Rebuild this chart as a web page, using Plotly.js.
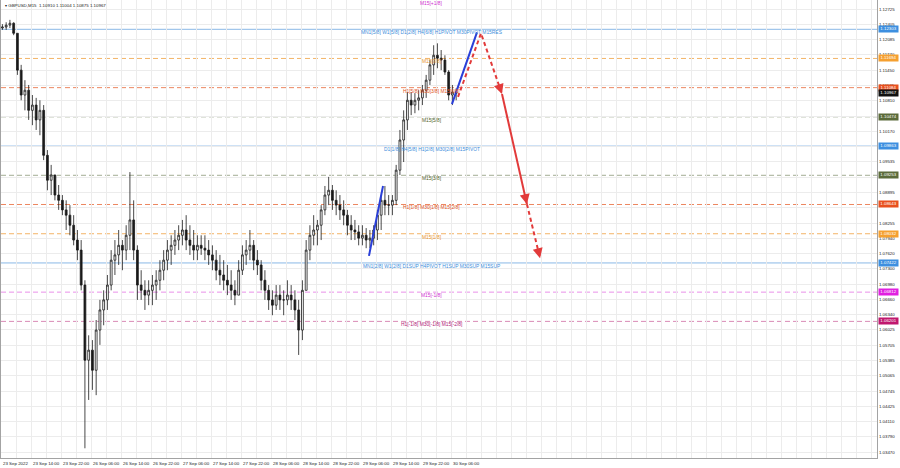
<!DOCTYPE html>
<html><head><meta charset="utf-8">
<script src="https://cdn.plot.ly/plotly-3.0.1.min.js"></script>
<style>html,body{margin:0;padding:0;background:#fff}#chart{width:900px;height:468px}</style>
</head><body><div id="chart"></div>
<script>
// ---- data ----
const symbolTitle = "GBPUSD,M15  1.10910 1.11004 1.10875 1.10967";
const timeLabels = ["23 Sep 2022","23 Sep 14:00","23 Sep 22:00","26 Sep 06:00","26 Sep 14:00","26 Sep 22:00","27 Sep 06:00","27 Sep 14:00","27 Sep 22:00","28 Sep 06:00","28 Sep 14:00","28 Sep 22:00","29 Sep 06:00","29 Sep 14:00","29 Sep 22:00","30 Sep 06:00"];
const priceTicks = [1.12725,1.12405,1.12085,1.11770,1.11450,1.11125,1.10810,1.10490,1.10170,1.09855,1.09535,1.09215,1.08895,1.08575,1.08255,1.07940,1.07620,1.07300,1.06980,1.06660,1.06340,1.06025,1.05705,1.05385,1.05065,1.04745,1.04425,1.04110,1.03790,1.03470];

// hourly candles (each = 4 M15 bars) from 23 Sep 06:00
const hourOpen = [1.1233,1.1235,1.1239,1.1243,1.1222,1.1145,1.1093,1.1103,1.1061,1.1072,1.1041,1.1061,1.0967,1.0915,1.0926,1.0884,1.0873,1.0853,1.0842,1.0821,1.0790,1.0769,1.0696,1.0539,1.0560,1.0518,1.0602,1.0644,1.0665,1.0696,1.0748,1.0759,1.0779,1.0769,1.0800,1.0832,1.0769,1.0696,1.0685,1.0675,1.0685,1.0696,1.0706,1.0727,1.0748,1.0769,1.0779,1.0790,1.0800,1.0811,1.0790,1.0779,1.0769,1.0779,1.0773,1.0769,1.0759,1.0748,1.0727,1.0717,1.0706,1.0696,1.0685,1.0675,1.0727,1.0759,1.0769,1.0779,1.0748,1.0738,1.0706,1.0685,1.0665,1.0654,1.0675,1.0665,1.0665,1.0675,1.0665,1.0644,1.0602,1.0685,1.0769,1.0800,1.0811,1.0821,1.0853,1.0884,1.0894,1.0873,1.0863,1.0853,1.0842,1.0821,1.0811,1.0807,1.0794,1.0800,1.0790,1.0794,1.0811,1.0842,1.0873,1.0863,1.0863,1.0873,1.0936,1.0999,1.1041,1.1082,1.1072,1.1082,1.1087,1.1103,1.1124,1.1156,1.1176,1.1170,1.1166,1.1141,1.1093,1.1099];
const hourHigh = [1.1241,1.1245,1.1250,1.1245,1.1222,1.1156,1.1124,1.1114,1.1093,1.1087,1.1082,1.1072,1.0978,1.0947,1.0926,1.0905,1.0884,1.0873,1.0863,1.0842,1.0811,1.0790,1.0706,1.0591,1.0581,1.0623,1.0665,1.0685,1.0717,1.0769,1.0790,1.0811,1.0790,1.0821,1.0932,1.0873,1.0779,1.0727,1.0706,1.0706,1.0717,1.0727,1.0748,1.0769,1.0790,1.0800,1.0811,1.0821,1.0832,1.0842,1.0821,1.0811,1.0800,1.0800,1.0800,1.0790,1.0779,1.0769,1.0759,1.0748,1.0738,1.0727,1.0706,1.0748,1.0779,1.0790,1.0811,1.0790,1.0769,1.0748,1.0727,1.0696,1.0685,1.0696,1.0696,1.0685,1.0706,1.0696,1.0685,1.0665,1.0706,1.0790,1.0821,1.0842,1.0832,1.0863,1.0903,1.0922,1.0905,1.0894,1.0884,1.0873,1.0853,1.0842,1.0832,1.0821,1.0821,1.0815,1.0811,1.0821,1.0853,1.0884,1.0903,1.0884,1.0884,1.0947,1.1020,1.1061,1.1099,1.1099,1.1097,1.1103,1.1114,1.1135,1.1166,1.1197,1.1201,1.1187,1.1176,1.1145,1.1114,1.1107];
const hourLow = [1.1229,1.1229,1.1233,1.1218,1.1135,1.1082,1.1061,1.1041,1.1030,1.1020,1.1009,1.0957,1.0894,1.0884,1.0873,1.0853,1.0842,1.0811,1.0800,1.0779,1.0748,1.0685,1.0355,1.0456,1.0477,1.0466,1.0571,1.0612,1.0644,1.0685,1.0717,1.0738,1.0727,1.0748,1.0769,1.0748,1.0665,1.0665,1.0644,1.0654,1.0654,1.0665,1.0685,1.0706,1.0727,1.0738,1.0759,1.0769,1.0779,1.0769,1.0759,1.0748,1.0748,1.0759,1.0748,1.0738,1.0727,1.0706,1.0696,1.0685,1.0675,1.0665,1.0654,1.0675,1.0717,1.0738,1.0748,1.0727,1.0717,1.0685,1.0665,1.0644,1.0633,1.0644,1.0644,1.0633,1.0654,1.0644,1.0623,1.0550,1.0581,1.0685,1.0748,1.0779,1.0779,1.0790,1.0842,1.0863,1.0853,1.0842,1.0832,1.0821,1.0800,1.0790,1.0790,1.0779,1.0779,1.0773,1.0773,1.0779,1.0790,1.0811,1.0842,1.0842,1.0842,1.0863,1.0926,1.0953,1.1020,1.1051,1.1055,1.1061,1.1072,1.1087,1.1114,1.1135,1.1149,1.1145,1.1135,1.1082,1.1072,1.1082];
const hourClose = [1.1235,1.1239,1.1243,1.1222,1.1145,1.1093,1.1103,1.1061,1.1072,1.1041,1.1061,1.0967,1.0915,1.0926,1.0884,1.0873,1.0853,1.0842,1.0821,1.0790,1.0769,1.0696,1.0539,1.0560,1.0518,1.0602,1.0644,1.0665,1.0696,1.0748,1.0759,1.0779,1.0769,1.0800,1.0832,1.0769,1.0696,1.0685,1.0675,1.0685,1.0696,1.0706,1.0727,1.0748,1.0769,1.0779,1.0790,1.0800,1.0811,1.0790,1.0779,1.0769,1.0779,1.0773,1.0769,1.0759,1.0748,1.0727,1.0717,1.0706,1.0696,1.0685,1.0675,1.0727,1.0759,1.0769,1.0779,1.0748,1.0738,1.0706,1.0685,1.0665,1.0654,1.0675,1.0665,1.0665,1.0675,1.0665,1.0644,1.0602,1.0685,1.0769,1.0800,1.0811,1.0821,1.0853,1.0884,1.0894,1.0873,1.0863,1.0853,1.0842,1.0821,1.0811,1.0807,1.0794,1.0800,1.0790,1.0794,1.0811,1.0842,1.0873,1.0863,1.0863,1.0873,1.0936,1.0999,1.1041,1.1082,1.1072,1.1082,1.1087,1.1103,1.1124,1.1156,1.1176,1.1170,1.1166,1.1141,1.1093,1.1099,1.10967];

// horizontal Murrey-type levels
const levelPrices = [1.12913,1.12303,1.11694,1.11084,1.10474,1.09863,1.09253,1.08643,1.08032,1.07422,1.06812,1.06201];
const levelTexts = ["M15[+1/8]","MN1[5/8] W1[5/8] D1[2/8] H4[6/8] H1PIVOT M30PIVOT M15RES","M15[7/8]","H1[5/8] M30[3/8] M15[6/8]","M15[5/8]","D1[1/8] H4[5/8] H1[2/8] M30[2/8] M15PIVOT","M15[3/8]","H1[1/8] M30[1/8] M15[2/8]","M15[1/8]","MN1[2/8] W1[2/8] D1SUP H4PIVOT H1SUP M30SUP M15SUP","M15[-1/8]","H1[-1/8] M30[-1/8] M15[-2/8]"];
const levelKinds = ["magenta","blue","orange","red","olive","blue","olive","red","orange","blue","magenta","crimson"];
const currentPrice = 1.10967;

// hand-drawn forecast objects (M15 bar index from 23 Sep 06:00, price)
const blueLineA_bars = [392.5, 407.5], blueLineA_prices = [1.0757, 1.0903];
const blueLineB_bars = [481, 507.7],   blueLineB_prices = [1.1074, 1.1224];
const forecastBars   = [487.5, 512, 534.4, 561, 575];
const forecastPrices = [1.1089, 1.1222, 1.1095, 1.0865, 1.0752];

// ---- styles ----
const kindStyle = {
  blue:    {line:'#8ab8e6', dash:'solid',   text:'#3b8ddb', box:'#3d8fe0'},
  orange:  {line:'#f3b466', dash:'5px,3px', text:'#e8942a', box:'#f5a030'},
  red:     {line:'#ec8660', dash:'5px,3px', text:'#e0501a', box:'#e8501e'},
  olive:   {line:'#a3ad93', dash:'5px,3px', text:'#4f6228', box:'#5b6b3a'},
  magenta: {line:'#e990e9', dash:'5px,3px', text:'#d030d0', box:'#e020e0'},
  crimson: {line:'#d98ab6', dash:'5px,3px', text:'#b01878', box:'#c0186e'}
};
const FONT = 'Liberation Sans, Arial, sans-serif';
const yTop = 1.12915, yBot = 1.03347, xMax = 934.4;
const coveredTicks = [1.10490, 1.09855, 1.09215, 1.08575]; // hidden under price boxes in the reference

const candleX = hourClose.map((_, k) => 4 * k + 1.5);

const traces = [
  {type:'candlestick', x:candleX, open:hourOpen, high:hourHigh, low:hourLow, close:hourClose,
   increasing:{line:{color:'#1a1a1a', width:0.8}, fillcolor:'#ffffff'},
   decreasing:{line:{color:'#1a1a1a', width:0.8}, fillcolor:'#1a1a1a'},
   whiskerwidth:0, hoverinfo:'skip', showlegend:false},
  {type:'scatter', mode:'lines', x:blueLineA_bars, y:blueLineA_prices, line:{color:'#2a3fd8', width:2}, hoverinfo:'skip', showlegend:false},
  {type:'scatter', mode:'lines', x:blueLineB_bars, y:blueLineB_prices, line:{color:'#2a3fd8', width:2}, hoverinfo:'skip', showlegend:false},
  {type:'scatter', mode:'lines', x:forecastBars.slice(0,3), y:forecastPrices.slice(0,3), line:{color:'#e23a3a', width:2, dash:'4px,3px'}, hoverinfo:'skip', showlegend:false},
  {type:'scatter', mode:'lines', x:forecastBars.slice(2,4), y:forecastPrices.slice(2,4), line:{color:'#e23a3a', width:2}, hoverinfo:'skip', showlegend:false},
  {type:'scatter', mode:'lines', x:forecastBars.slice(3,5), y:forecastPrices.slice(3,5), line:{color:'#e23a3a', width:2, dash:'4px,3px'}, hoverinfo:'skip', showlegend:false}
];

const visible = p => p < yTop - 0.0002;
const shapes = levelPrices.filter(visible).map(p => {
  const i = levelPrices.indexOf(p);
  return {type:'line', xref:'paper', x0:0, x1:1, yref:'y', y0:p, y1:p, layer:'below',
    line:{color:kindStyle[levelKinds[i]].line, width:1, dash:kindStyle[levelKinds[i]].dash}};
});

const annotations = [];
annotations.push({xref:'paper', yref:'paper', x:0.002, y:1, xanchor:'left', yanchor:'top', yshift:-1,
  text:'\u25BE ' + symbolTitle, showarrow:false, font:{family:FONT, size:4.4, color:'#222'}});
timeLabels.forEach((t, k) => annotations.push({xref:'x', yref:'paper', x:32 * k, y:0, xanchor:'left', yanchor:'top', yshift:-1,
  text:t, showarrow:false, font:{family:FONT, size:4.4, color:'#222'}}));
levelPrices.forEach((p, i) => annotations.push({xref:'paper', yref:'y', x:0.492, y:Math.min(p, yTop), xanchor:'center', yanchor:'top', yshift:0,
  borderpad:0, text:levelTexts[i], showarrow:false, font:{family:FONT, size:4.9, color:kindStyle[levelKinds[i]].text}}));
levelPrices.forEach((p, i) => { if (visible(p)) annotations.push({xref:'paper', yref:'y', x:1, y:p, xanchor:'left', yanchor:'middle', xshift:1,
  width:19, height:5.5, borderpad:0, bgcolor:kindStyle[levelKinds[i]].box, text:p.toFixed(5), showarrow:false,
  font:{family:FONT, size:4.4, color:'#ffffff'}}); });
annotations.push({xref:'paper', yref:'y', x:1, y:currentPrice, xanchor:'left', yanchor:'middle', xshift:1,
  width:19, height:5.5, borderpad:0, bgcolor:'#111111', text:currentPrice.toFixed(5), showarrow:false,
  font:{family:FONT, size:4.4, color:'#ffffff'}});
// arrowheads at the ends of the downward forecast legs
[[1,2],[2,3],[3,4]].forEach(([a, b]) => {
  const f = 0.9;
  annotations.push({xref:'x', yref:'y', axref:'x', ayref:'y', x:forecastBars[b], y:forecastPrices[b],
    ax:forecastBars[a] + f * (forecastBars[b] - forecastBars[a]), ay:forecastPrices[a] + f * (forecastPrices[b] - forecastPrices[a]),
    text:'', showarrow:true, arrowhead:2, arrowsize:1, arrowwidth:2, arrowcolor:'#e23a3a'});
});

const axisCommon = {showline:true, mirror:true, linecolor:'#a3a3a3', linewidth:1, zeroline:false, fixedrange:true,
  gridcolor:'#ececec', gridwidth:1};
const layout = {
  width:900, height:468, margin:{l:1, r:23, t:0, b:10, pad:0},
  paper_bgcolor:'#ffffff', plot_bgcolor:'#ffffff', showlegend:false, dragmode:false,
  xaxis:Object.assign({}, axisCommon, {range:[0, xMax], tickmode:'linear', tick0:0, dtick:16, showgrid:true,
    showticklabels:false, ticks:'', rangeslider:{visible:false}}),
  yaxis:Object.assign({}, axisCommon, {range:[yBot, yTop], side:'right', tickmode:'array', tickvals:priceTicks,
    ticktext:priceTicks.map(v => coveredTicks.includes(v) ? '' : v.toFixed(5)), ticks:'', showgrid:true,
    tickfont:{family:FONT, size:4.4, color:'#222'}}),
  shapes:shapes, annotations:annotations
};
Plotly.newPlot('chart', traces, layout, {staticPlot:true, displayModeBar:false});
</script>
</body></html>
